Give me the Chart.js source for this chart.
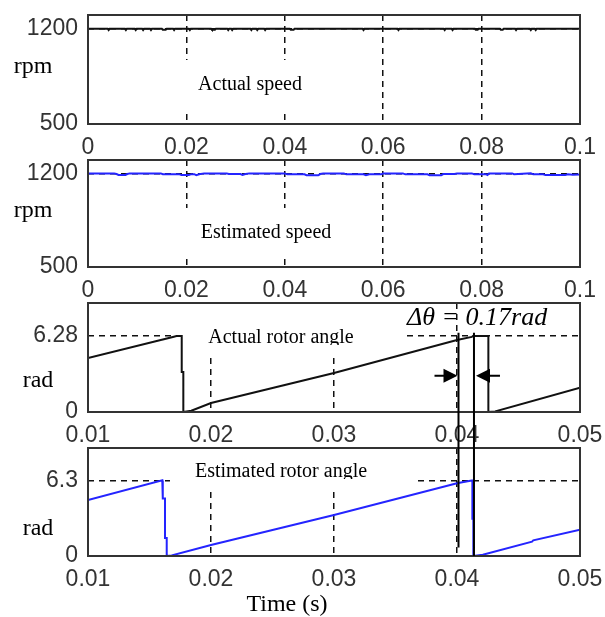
<!DOCTYPE html>
<html><head><meta charset="utf-8">
<script src="https://cdn.jsdelivr.net/npm/chart.js@4.4.0/dist/chart.umd.min.js"></script>
<style>
html,body{margin:0;padding:0;background:#fff;}
#wrap{position:relative;width:605px;height:617px;background:#fff;}
#wrap canvas{position:absolute;left:0;top:0;}
</style></head><body>
<div id="wrap">
<canvas id="c1" width="605" height="617"></canvas>
<canvas id="c2" width="605" height="617"></canvas>
<canvas id="c3" width="605" height="617"></canvas>
<canvas id="c4" width="605" height="617"></canvas>
</div>
<script>
// ---------- DATA ----------
const speedTicks = [0, 0.02, 0.04, 0.06, 0.08, 0.1];
const speedTickLabels = ['0', '0.02', '0.04', '0.06', '0.08', '0.1'];
const speedYTicks = [500, 1200];
const speedYTickLabels = ['500', '1200'];

const angleTicks = [0.01, 0.02, 0.03, 0.04, 0.05];
const angleTickLabels = ['0.01', '0.02', '0.03', '0.04', '0.05'];
const actualAngleYTicks = [0, 6.28];
const actualAngleYTickLabels = ['0', '6.28'];
const estAngleYTicks = [0, 6.3];
const estAngleYTickLabels = ['0', '6.3'];

// Actual speed (rpm)
const actualSpeedTime = [0,0.0040,0.0042,0.0044,0.0075,0.0077,0.0079,0.0095,0.0097,0.0099,0.0110,0.0112,0.0114,0.0126,0.0128,0.0130,0.0150,0.0152,0.0158,0.0160,0.0173,0.0175,0.0177,0.0205,0.0207,0.0209,0.0250,0.0252,0.0258,0.0260,0.0283,0.0285,0.0287,0.0291,0.0293,0.0295,0.0330,0.0332,0.0334,0.0342,0.0344,0.0346,0.0358,0.0360,0.0362,0.0410,0.0412,0.0418,0.0420,0.0558,0.0560,0.0562,0.0629,0.0631,0.0633,0.0723,0.0725,0.0727,0.0739,0.0741,0.0743,0.0786,0.0788,0.0792,0.0794,0.0837,0.0839,0.0843,0.0845,0.0868,0.0870,0.0872,0.0898,0.0900,0.0902,0.0908,0.0910,0.0912,0.1];
const actualSpeed = [1200,1200,1190,1200,1200,1190,1200,1200,1190,1200,1200,1190,1200,1200,1190,1200,1200,1192,1192,1200,1200,1190,1200,1200,1190,1200,1200,1192,1192,1200,1200,1190,1200,1200,1190,1200,1200,1190,1200,1200,1190,1200,1200,1190,1200,1200,1192,1192,1200,1200,1190,1200,1200,1190,1200,1200,1190,1200,1200,1190,1200,1200,1192,1192,1200,1200,1192,1192,1200,1200,1190,1200,1200,1190,1200,1200,1190,1200,1200];

// Estimated speed (rpm)
const estSpeedTime = [0,0.0053,0.0058,0.0062,0.0076,0.0080,0.0085,0.0148,0.0152,0.0185,0.0190,0.0205,0.0210,0.0216,0.0220,0.0226,0.0236,0.0282,0.0286,0.0310,0.0314,0.0320,0.0328,0.0400,0.0405,0.0440,0.0444,0.0468,0.0472,0.0478,0.0520,0.0525,0.0560,0.0565,0.0572,0.0596,0.0600,0.0640,0.0645,0.0690,0.0694,0.0718,0.0722,0.0745,0.0750,0.0780,0.0785,0.0808,0.0812,0.0815,0.0862,0.0866,0.0900,0.0905,0.0925,0.0930,0.0970,0.0975,0.0985,0.1];
const estSpeed = [1200,1200,1195,1188,1188,1195,1200,1200,1194,1194,1187,1187,1194,1194,1187,1194,1200,1200,1195,1195,1188,1195,1200,1200,1193,1193,1186,1186,1195,1200,1200,1193,1193,1187,1193,1193,1200,1200,1193,1193,1186,1186,1195,1195,1200,1200,1194,1194,1188,1200,1200,1194,1200,1193,1193,1187,1187,1193,1190,1192];

// Actual rotor angle (rad)
const actualAngleTime = [0.01,0.0169,0.0172,0.01762,0.01762,0.01775,0.01775,0.0184,0.02,0.03,0.04,0.0412,0.0413,0.04255,0.04255,0.0431,0.05];
const actualAngle = [4.46,6.2,6.28,6.28,3.3,3.3,0,0.1,0.74,3.22,5.94,6.2,6.28,6.28,0,0.05,2.0];

// Estimated rotor angle (rad)
const estAngleTime = [0.01,0.01604,0.01608,0.01608,0.01626,0.01626,0.0164,0.0164,0.0168,0.02,0.03,0.04,0.0412,0.04125,0.04125,0.04133,0.04133,0.0421,0.0461,0.0462,0.05];
const estAngle = [4.67,6.3,6.3,4.8,4.8,1.5,1.5,0,0.05,0.92,3.42,6.06,6.3,6.3,3.1,3.1,0,0.1,1.2,1.3,2.2];

// ---------- STYLE / LAYOUT ----------
const PAGE_H = 617, PLOT_L = 88, PLOT_R = 580, XAXIS_H = 34;
const tickFont = {family: '"Liberation Sans", Arial, sans-serif', size: 23};
const tickColor = '#333';
const serif = '"Liberation Serif", "Times New Roman", serif';

const decoById = {};
const charts = [];

const panelPlugin = {
  id: 'panelDeco',
  beforeDatasetsDraw(chart) {
    const o = decoById[chart.canvas.id];
    const ctx = chart.ctx;
    ctx.save();
    ctx.fillStyle = '#fff';
    const b = o.box;
    ctx.fillRect(b[0], b[1], b[2] - b[0], b[3] - b[1]);
    ctx.restore();
    ctx.save();
    if (o.clipY) {
      ctx.beginPath();
      ctx.rect(0, 0, 605, o.clipY);
      ctx.clip();
    }
    ctx.fillStyle = '#000';
    ctx.font = '20px ' + serif;
    ctx.textAlign = 'center';
    ctx.textBaseline = 'alphabetic';
    ctx.fillText(o.label, o.labelX, o.labelY);
    ctx.restore();
    ctx.save();
    ctx.fillStyle = '#000';
    ctx.font = '24px ' + serif;
    ctx.textAlign = 'center';
    ctx.textBaseline = 'alphabetic';
    ctx.fillText(o.yTitle, o.yTitleX, o.yTitleY);
    ctx.restore();
  },
  afterDraw(chart) {
    const a = chart.chartArea, ctx = chart.ctx;
    ctx.save();
    ctx.strokeStyle = '#333';
    ctx.lineWidth = 2;
    ctx.strokeRect(a.left, a.top, a.right - a.left, a.bottom - a.top);
    ctx.restore();
    const o = decoById[chart.canvas.id];
    if (o.extra) o.extra(chart);
  }
};

function makePanel(id, cfg) {
  decoById[id] = cfg.deco;
  const data = cfg.t.map((x, i) => ({x: x, y: cfg.v[i]}));
  const ch = new Chart(document.getElementById(id), {
    type: 'line',
    data: {datasets: [{data: data, borderColor: cfg.color, borderWidth: 2, pointRadius: 0, tension: 0, fill: false}]},
    options: {
      responsive: false, animation: false, events: [],
      layout: {padding: {top: cfg.top, bottom: PAGE_H - cfg.bottom - XAXIS_H, left: 0, right: 605 - PLOT_R}},
      plugins: {legend: {display: false}, tooltip: {enabled: false}},
      scales: {
        x: {
          type: 'linear', min: cfg.xmin, max: cfg.xmax,
          afterBuildTicks: s => { s.ticks = cfg.xTicks.map(v => ({value: v})); },
          afterFit: s => { s.height = XAXIS_H; s.paddingLeft = 0; s.paddingRight = 0; },
          ticks: {callback: (v, i) => cfg.xLabels[i], font: tickFont, color: tickColor, padding: 10, maxRotation: 0, autoSkip: false},
          grid: {color: '#111', lineWidth: 1.5, drawTicks: false},
          border: {display: false, dash: [6, 5]}
        },
        y: {
          type: 'linear', min: cfg.ymin, max: cfg.ymax,
          afterBuildTicks: s => { s.ticks = cfg.yTicks.map(v => ({value: v})); },
          afterFit: s => { s.width = PLOT_L; s.paddingTop = 0; s.paddingBottom = 0; },
          ticks: {callback: (v, i) => cfg.yLabels[i], font: tickFont, color: tickColor, padding: 10, autoSkip: false},
          grid: {color: '#111', lineWidth: 1.5, drawTicks: false},
          border: {display: false, dash: [6, 5]}
        }
      }
    },
    plugins: [panelPlugin]
  });
  charts.push(ch);
  return ch;
}

function drawAnnotation(chart4) {
  const ctx = chart4.ctx;
  const c3 = charts[2];
  if (!c3) return;
  const x3 = c3.scales.x, y3 = c3.scales.y, y4 = chart4.scales.y;
  const xl = x3.getPixelForValue(0.04) + 1.5;
  const xr = x3.getPixelForValue(0.04138);
  const top = y3.getPixelForValue(6.55);
  ctx.save();
  ctx.strokeStyle = '#000';
  ctx.lineWidth = 2;
  ctx.beginPath();
  ctx.moveTo(xl, top); ctx.lineTo(xl, y4.getPixelForValue(0.7));
  ctx.moveTo(xr, top); ctx.lineTo(xr, y4.getPixelForValue(0));
  ctx.stroke();
  // arrows
  const ay = y3.getPixelForValue(3.0);
  ctx.beginPath();
  ctx.moveTo(xl - 24, ay); ctx.lineTo(xl - 10, ay);
  ctx.moveTo(xr + 26, ay); ctx.lineTo(xr + 12, ay);
  ctx.stroke();
  ctx.fillStyle = '#000';
  ctx.beginPath();
  ctx.moveTo(xl - 1, ay); ctx.lineTo(xl - 15, ay - 7); ctx.lineTo(xl - 15, ay + 7); ctx.closePath();
  ctx.fill();
  ctx.beginPath();
  ctx.moveTo(xr + 2, ay); ctx.lineTo(xr + 16, ay - 7); ctx.lineTo(xr + 16, ay + 7); ctx.closePath();
  ctx.fill();
  // delta theta text
  ctx.font = 'italic 26px ' + serif;
  ctx.textAlign = 'left';
  ctx.textBaseline = 'alphabetic';
  ctx.fillText('\u0394\u03B8 = 0.17rad', 407, 325);
  // x axis title
  ctx.font = '24px ' + serif;
  ctx.textAlign = 'center';
  ctx.fillText('Time (s)', 287, 611);
  ctx.restore();
}

makePanel('c1', {
  t: actualSpeedTime, v: actualSpeed, color: '#111', top: 15, bottom: 124,
  xmin: 0, xmax: 0.1, xTicks: speedTicks, xLabels: speedTickLabels,
  ymin: 500, ymax: 1300, yTicks: speedYTicks, yLabels: speedYTickLabels,
  deco: {box: [152, 60, 345, 110], label: 'Actual speed', labelX: 250, labelY: 90, yTitle: 'rpm', yTitleX: 33, yTitleY: 73}
});
makePanel('c2', {
  t: estSpeedTime, v: estSpeed, color: '#2424ff', top: 160, bottom: 267,
  xmin: 0, xmax: 0.1, xTicks: speedTicks, xLabels: speedTickLabels,
  ymin: 500, ymax: 1300, yTicks: speedYTicks, yLabels: speedYTickLabels,
  deco: {box: [177, 208, 367, 255], label: 'Estimated speed', labelX: 266, labelY: 238, yTitle: 'rpm', yTitleX: 33, yTitleY: 217}
});
makePanel('c3', {
  t: actualAngleTime, v: actualAngle, color: '#111', top: 303, bottom: 412,
  xmin: 0.01, xmax: 0.05, xTicks: angleTicks, xLabels: angleTickLabels,
  ymin: 0, ymax: 9, yTicks: actualAngleYTicks, yLabels: actualAngleYTickLabels,
  deco: {box: [183, 304, 404, 357], clipY: 345, label: 'Actual rotor angle', labelX: 281, labelY: 343, yTitle: 'rad', yTitleX: 38, yTitleY: 387}
});
makePanel('c4', {
  t: estAngleTime, v: estAngle, color: '#2424ff', top: 448, bottom: 556,
  xmin: 0.01, xmax: 0.05, xTicks: angleTicks, xLabels: angleTickLabels,
  ymin: 0, ymax: 9, yTicks: estAngleYTicks, yLabels: estAngleYTickLabels,
  deco: {box: [170, 449, 413, 487], clipY: 479, label: 'Estimated rotor angle', labelX: 281, labelY: 477, yTitle: 'rad', yTitleX: 38, yTitleY: 535,
    extra: drawAnnotation}
});
</script>
</body></html>
